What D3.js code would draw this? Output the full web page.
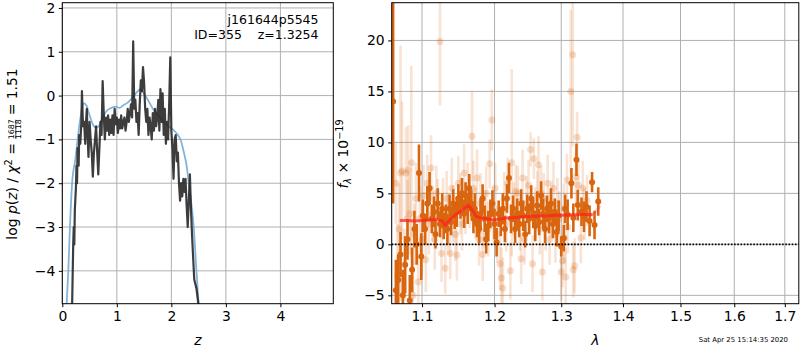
<!DOCTYPE html>
<html>
<head>
<meta charset="utf-8">
<script src="https://cdn.jsdelivr.net/npm/d3@7"></script>
<style>
  body { margin: 0; background: #fff; }
  svg text { font-family: "DejaVu Sans", sans-serif; fill: #000; }
  .tick text { font-size: 13.9px; }
  .tick line { stroke: #000; stroke-width: 1; }
</style>
</head>
<body>
<div id="chart"></div>
<script>
"use strict"

// ---- p(z) panel data ----
// black: log p(z) from the fit
const pzRedshift = [0.18,0.20,0.21,0.22,0.23,0.25,0.26,0.27,0.28,0.30,0.31,0.33,0.35,0.36,0.38,0.40,0.42,0.43,0.45,0.46,
  0.48,0.50,0.52,0.54,0.56,0.58,0.60,0.62,0.64,0.66,0.68,0.70,0.72,0.74,0.76,0.78,0.80,0.82,0.84,0.86,
  0.88,0.90,0.92,0.94,0.96,0.98,1.00,1.02,1.04,1.06,1.08,1.10,1.12,1.14,1.16,1.18,1.20,1.22,1.24,1.26,
  1.28,1.30,1.32,1.34,1.36,1.38,1.40,1.42,1.44,1.46,1.48,1.50,1.52,1.54,1.56,1.58,1.60,1.62,1.64,1.66,
  1.68,1.70,1.72,1.74,1.76,1.78,1.80,1.82,1.84,1.86,1.88,1.90,1.92,1.94,1.96,1.98,2.00,2.02,2.04,2.06,
  2.08,2.10,2.12,2.14,2.16,2.18,2.20,2.22,2.24,2.26,2.28,2.30,2.32,2.34,2.36,2.38,2.40,2.42,2.44,2.46,2.48,2.50];
const pzLogp = [-4.8,-3.4,-3.0,-3.4,-2.6,-2.1,-1.6,-2.0,-1.2,-1.6,-0.9,-1.1,-0.6,0.1,-0.7,-0.6,-1.1,-0.7,-0.3,-0.8,
  -1.4,-0.6,-1.0,-1.3,-1.85,-1.3,-1.0,-0.7,-1.3,-1.8,-1.2,-0.6,-0.9,0.33,-0.4,-1.0,-0.5,-0.8,-0.45,-0.9,
  -0.55,-0.85,-0.45,-0.9,-0.3,-0.65,-0.5,-0.85,-0.55,-0.75,-0.45,-0.75,-0.6,-0.5,-0.8,-0.6,-0.3,-0.6,-0.4,-0.2,
  -0.5,1.24,-0.3,-0.1,-0.6,-0.4,-0.9,-0.2,0.35,0.1,0.65,0.3,-0.3,-0.6,-0.3,-0.9,-0.5,-0.7,-1.0,-0.4,
  -0.8,-0.3,-0.7,-0.5,-0.1,-0.8,0.15,-0.6,0.05,-0.9,-0.3,-1.1,-0.6,-1.0,-0.2,0.87,-0.8,-1.2,-1.9,-1.0,
  -0.9,-1.5,-1.3,-2.0,-2.4,-2.0,-2.3,-1.9,-2.2,-1.9,-2.5,-3.0,-2.4,-1.8,-2.6,-3.2,-3.7,-4.2,-4.3,-4.4,-4.6,-4.8];

// blue: smooth template prior curve
const templRedshift = [0.08,0.11,0.14,0.18,0.24,0.30,0.34,0.39,0.44,0.50,0.56,0.62,0.68,0.74,0.82,0.90,0.97,1.05,1.12,1.20,
  1.28,1.36,1.43,1.50,1.58,1.66,1.75,1.85,1.95,2.05,2.12,2.18,2.23,2.28,2.32,2.37,2.41,2.46,2.50];
const templLogp = [-4.75,-4.0,-3.0,-2.0,-1.45,-0.8,-0.45,-0.17,-0.22,-0.45,-0.66,-0.73,-0.68,-0.5,-0.34,-0.28,-0.25,-0.28,-0.22,-0.16,
  -0.05,0.07,0.14,0.04,-0.12,-0.3,-0.43,-0.58,-0.7,-0.8,-0.9,-1.05,-1.3,-1.6,-2.0,-2.5,-3.0,-4.0,-4.75];

// ---- spectrum panel data (flux in 1e-19) ----
const faintWave = [1.066,1.068,1.070,1.072,1.074,1.077,1.079,1.081,1.082,1.084,1.086,1.088,1.090,1.092,1.095,1.097,1.100,1.102,1.105,1.107,
  1.109,1.112,1.114,1.117,1.119,1.121,1.124,1.126,1.128,1.131,1.133,1.135,1.138,1.140,1.142,1.145,1.147,1.149,1.152,1.154,
  1.157,1.159,1.162,1.165,1.168,1.170,1.173,1.175,1.178,1.180,1.183,1.185,1.188,1.191,1.193,1.196,1.198,1.201,1.204,1.208,
  1.210,1.212,1.214,1.217,1.219,1.223,1.225,1.228,1.231,1.234,1.237,1.239,1.241,1.244,1.247,1.250,1.253,1.256,1.258,1.260,
  1.263,1.265,1.267,1.269,1.271,1.273,1.276,1.279,1.282,1.285,1.288,1.291,1.294,1.297,1.300,1.302,1.304,1.305,1.307,1.309,
  1.310,1.315,1.318,1.319,1.321,1.323,1.325,1.327,1.331,1.334,1.337,1.341];
const faintFlux = [6.0,-3.0,1.5,7.0,7.2,-2.0,7.0,2.5,7.3,3.0,8.0,-5.0,1.0,4.5,-3.7,2.5,0.5,4.8,-1.5,6.0,
  2.0,7.5,3.0,0.5,5.0,3.8,19.9,-0.9,3.5,-2.35,4.5,2.0,-0.9,5.5,3.0,1.0,-1.05,6.0,4.0,2.0,
  7.0,3.5,5.0,4.2,10.6,5.5,3.0,6.5,0.5,4.0,-1.0,2.5,5.0,1.5,7.9,12.2,3.0,5.5,1.0,-1.9,
  -3.3,-4.3,4.5,2.0,6.0,-2.6,8.0,3.5,5.2,5.0,2.0,-1.4,6.5,0.5,4.0,5.8,9.3,-1.9,8.4,3.0,
  4.6,7.8,1.5,5.0,-2.7,4.5,2.0,6.0,0.5,3.5,5.5,1.0,4.0,2.5,-2.7,-1.6,3.5,0.65,-3.2,6.3,
  1.7,15.0,18.6,-2.5,-2.1,6.6,10.5,5.8,0.65,5.5,3.0,4.3];
const faintErr = [4.0,5.0,4.5,12.5,6.8,3.5,4.5,3.8,4.4,4.0,9.5,3.5,3.0,3.5,3.0,3.2,3.5,3.0,3.2,2.8,
  3.0,3.2,2.8,3.0,2.7,2.6,6.3,2.8,3.0,2.5,2.7,3.0,2.5,3.0,2.8,2.6,2.5,2.7,3.0,2.6,
  2.8,2.5,3.0,2.6,4.4,2.7,2.5,2.8,2.6,3.0,2.6,2.8,2.6,2.7,2.4,3.0,2.7,2.5,2.8,2.6,
  3.0,3.0,2.6,2.7,2.5,2.8,9.2,2.6,2.6,2.7,2.6,2.5,2.8,2.5,2.7,2.5,1.7,2.8,2.0,2.6,
  2.6,2.8,2.5,2.7,2.8,2.5,2.6,2.8,2.5,2.7,2.6,2.8,2.5,2.7,2.8,2.6,2.5,2.5,2.8,2.6,
  2.6,8.0,9.0,2.7,2.7,2.5,2.5,2.5,2.5,2.7,2.6,2.5];

const darkWave = [1.0625,1.066,1.069,1.072,1.075,1.078,1.081,1.084,1.087,1.090,1.093,1.096,1.099,1.101,1.104,1.107,1.110,1.113,1.116,1.118,
  1.121,1.124,1.127,1.129,1.132,1.134,1.137,1.139,1.142,1.144,1.147,1.149,1.152,1.154,1.157,1.159,1.162,1.164,1.167,1.170,
  1.172,1.175,1.178,1.180,1.183,1.186,1.188,1.191,1.194,1.197,1.200,1.203,1.206,1.209,1.212,1.215,1.218,1.221,1.224,1.227,
  1.230,1.233,1.236,1.239,1.242,1.245,1.248,1.251,1.254,1.257,1.260,1.263,1.266,1.269,1.272,1.275,1.278,1.281,1.284,1.287,
  1.290,1.293,1.296,1.300,1.304,1.306,1.310,1.316,1.319,1.324,1.326,1.332,1.336,1.340,1.345,1.349,1.353,1.359];
const darkFlux = [14,-4.5,-3.5,-1.0,-5.0,-2.0,0.5,-5.5,-2.5,1.5,0.0,7.0,-1.2,2.8,1.5,4.0,5.5,2.5,3.2,1.0,
  4.0,2.0,3.5,1.8,2.5,1.5,3.5,2.2,4.0,2.8,3.2,4.5,3.8,5.0,3.0,4.8,3.5,5.5,4.0,2.5,
  3.5,2.0,1.5,3.0,4.5,2.5,0.5,1.8,3.0,4.0,2.0,0.2,3.0,2.2,3.5,1.5,4.5,6.5,2.5,3.5,
  1.5,3.0,2.0,4.0,2.8,1.0,3.5,2.5,4.5,3.0,1.8,3.8,2.2,4.8,3.0,1.5,3.5,2.5,4.0,2.0,
  3.2,1.2,2.8,-0.2,0.6,3.5,2.9,6.0,2.6,8.3,3.85,3.2,2.7,3.7,2.3,6.1,1.9,4.2];
const darkErr = [10,3.0,2.5,2.2,2.5,2.8,2.0,2.5,2.2,1.8,2.0,2.8,2.3,1.6,1.5,1.7,1.6,1.4,1.5,1.4,
  1.5,1.3,1.5,1.3,1.4,1.5,1.4,1.3,1.4,1.3,1.5,1.4,1.3,1.5,1.4,1.3,1.5,1.4,1.3,1.4,
  1.5,1.3,1.4,1.5,1.4,1.3,1.4,1.5,1.4,1.3,1.5,1.4,1.3,1.4,1.5,1.3,1.4,1.5,1.4,1.3,
  1.4,1.5,1.3,1.4,1.5,1.3,1.4,1.5,1.3,1.4,1.5,1.4,1.3,1.4,1.5,1.4,1.3,1.4,1.5,1.4,
  1.3,1.4,1.5,1.0,1.3,1.4,1.5,1.5,1.4,1.6,1.5,1.4,1.5,1.5,1.5,1.0,1.4,1.4];

// red: best-fit model
const modelWave = [1.071,1.08,1.09,1.10,1.11,1.12,1.127,1.131,1.136,1.145,1.155,1.163,1.168,1.174,1.18,1.19,1.198,1.21,1.22,1.23,
  1.24,1.25,1.26,1.27,1.28,1.29,1.30,1.31,1.32,1.33,1.34,1.35];
const modelFlux = [2.35,2.35,2.3,2.35,2.4,2.45,2.3,1.85,2.3,2.9,3.4,3.85,3.4,2.75,2.6,2.5,2.4,2.5,2.6,2.6,
  2.7,2.72,2.75,2.78,2.8,2.85,2.85,2.88,2.9,2.92,2.92,2.9];
const modelTailWave = [1.345,1.352,1.357,1.362];
const modelTailFlux = [2.92,3.0,3.35,3.8];

// tick labels
const zTicks = [0, 1, 2, 3, 4];
const logpTicks = [-4, -3, -2, -1, 0, 1, 2];
const waveTicks = [1.1, 1.2, 1.3, 1.4, 1.5, 1.6, 1.7];
const fluxTicks = [-5, 0, 5, 10, 15, 20];

// Figure size and the two axes boxes
const figWidth = 800;
const figHeight = 350;
const pzBox = {left: 62.3, right: 333.3, top: 2.7, bottom: 303.7};
const spBox = {left: 391.7, right: 798.8, top: 2.7, bottom: 303.7};

const orange = "#d9650f";

const svg = d3.select("#chart").append("svg")
  .attr("width", figWidth)
  .attr("height", figHeight);

// Scales (the wavelength axis is logarithmic)
const xZ = d3.scaleLinear().domain([0, 4.97]).range([pzBox.left, pzBox.right]);
const yLogp = d3.scaleLinear().domain([-4.75, 2.12]).range([pzBox.bottom, pzBox.top]);
const xWave = d3.scaleLog().domain([1.0607, 1.7288]).range([spBox.left, spBox.right]);
const yFlux = d3.scaleLinear().domain([-5.82, 23.7]).range([spBox.bottom, spBox.top]);

function drawGrid(box, xScale, yScale, xTicks, yTicks, id) {
  const grid = svg.append("g").attr("class", "grid");
  grid.selectAll(".gx").data(xTicks).enter().append("line")
    .attr("x1", d => xScale(d)).attr("x2", d => xScale(d))
    .attr("y1", box.top).attr("y2", box.bottom)
    .attr("stroke", "#b0b0b0").attr("stroke-width", 1);
  grid.selectAll(".gy").data(yTicks).enter().append("line")
    .attr("x1", box.left).attr("x2", box.right)
    .attr("y1", d => yScale(d)).attr("y2", d => yScale(d))
    .attr("stroke", "#b0b0b0").attr("stroke-width", 1);

  // clip for the data
  svg.append("clipPath").attr("id", id)
    .append("rect")
      .attr("x", box.left).attr("y", box.top)
      .attr("width", box.right - box.left)
      .attr("height", box.bottom - box.top);
}

function drawAxes(box, xScale, yScale, xTicks, yTicks, xFmt) {
  const xAxis = d3.axisBottom(xScale).tickValues(xTicks).tickFormat(xFmt)
    .tickSize(3.5).tickSizeOuter(0).tickPadding(3.5);
  const yAxis = d3.axisLeft(yScale).tickValues(yTicks).tickFormat(d3.format("d"))
    .tickSize(3.5).tickSizeOuter(0).tickPadding(3.5);

  svg.append("g")
    .attr("transform", `translate(0, ${box.bottom})`)
    .call(xAxis)
    .call(g => g.select(".domain").remove())
    .selectAll("text").attr("font-family", "DejaVu Sans");

  svg.append("g")
    .attr("transform", `translate(${box.left}, 0)`)
    .call(yAxis)
    .call(g => g.select(".domain").remove())
    .selectAll("text").attr("font-family", "DejaVu Sans");

  svg.append("rect")
    .attr("x", box.left).attr("y", box.top)
    .attr("width", box.right - box.left)
    .attr("height", box.bottom - box.top)
    .attr("fill", "none").attr("stroke", "#000").attr("stroke-width", 1);
}

drawGrid(pzBox, xZ, yLogp, zTicks, logpTicks, "clipPz");
drawGrid(spBox, xWave, yFlux, waveTicks, fluxTicks, "clipSp");

// ---- left panel: p(z) curves ----
const pzPlot = svg.append("g").attr("clip-path", "url(#clipPz)");

pzPlot.append("path")
  .datum(d3.zip(templRedshift, templLogp))
  .attr("fill", "none")
  .attr("stroke", "#6fa6d3")
  .attr("stroke-opacity", 0.85)
  .attr("stroke-width", 1.8)
  .attr("d", d3.line().x(d => xZ(d[0])).y(d => yLogp(d[1])).curve(d3.curveMonotoneX));

pzPlot.append("path")
  .datum(d3.zip(pzRedshift, pzLogp))
  .attr("fill", "none")
  .attr("stroke", "#222")
  .attr("stroke-opacity", 0.88)
  .attr("stroke-width", 2.2)
  .attr("stroke-linejoin", "round")
  .attr("d", d3.line().x(d => xZ(d[0])).y(d => yLogp(d[1])));

// ---- right panel: spectrum ----
const spPlot = svg.append("g").attr("clip-path", "url(#clipSp)");

const faint = d3.range(faintWave.length).map(i => ({w: faintWave[i], f: faintFlux[i], e: faintErr[i]}));
const dark = d3.range(darkWave.length).map(i => ({w: darkWave[i], f: darkFlux[i], e: darkErr[i]}));

// faint (low weight) points
spPlot.selectAll(".fbar").data(faint).enter().append("line")
  .attr("x1", d => xWave(d.w)).attr("x2", d => xWave(d.w))
  .attr("y1", d => yFlux(d.f - d.e)).attr("y2", d => yFlux(d.f + d.e))
  .attr("stroke", orange).attr("stroke-opacity", 0.18).attr("stroke-width", 2.6);

spPlot.selectAll(".fpt").data(faint).enter().append("circle")
  .attr("cx", d => xWave(d.w)).attr("cy", d => yFlux(d.f))
  .attr("r", 3.5)
  .attr("fill", orange).attr("fill-opacity", 0.22);

// binned points
spPlot.selectAll(".dbar").data(dark).enter().append("line")
  .attr("x1", d => xWave(d.w)).attr("x2", d => xWave(d.w))
  .attr("y1", d => yFlux(d.f - d.e)).attr("y2", d => yFlux(d.f + d.e))
  .attr("stroke", orange).attr("stroke-width", 2.6);

spPlot.selectAll(".dpt").data(dark).enter().append("circle")
  .attr("cx", d => xWave(d.w)).attr("cy", d => yFlux(d.f))
  .attr("r", 3)
  .attr("fill", orange);

const modelLine = d3.line().x(d => xWave(d[0])).y(d => yFlux(d[1]));

spPlot.append("path")
  .datum(d3.zip(modelTailWave, modelTailFlux))
  .attr("fill", "none").attr("stroke", "#ff3030").attr("stroke-opacity", 0.25)
  .attr("stroke-width", 3).attr("d", modelLine);

spPlot.append("path")
  .datum(d3.zip(modelWave, modelFlux))
  .attr("fill", "none").attr("stroke", "#ff2020").attr("stroke-opacity", 0.72)
  .attr("stroke-width", 3).attr("stroke-linejoin", "round").attr("d", modelLine);

// zero line
spPlot.append("line")
  .attr("x1", spBox.left).attr("x2", spBox.right)
  .attr("y1", yFlux(0)).attr("y2", yFlux(0))
  .attr("stroke", "#000").attr("stroke-width", 1.6)
  .attr("stroke-dasharray", "1.6,1.6");

drawAxes(pzBox, xZ, yLogp, zTicks, logpTicks, d3.format("d"));
drawAxes(spBox, xWave, yFlux, waveTicks, fluxTicks, d3.format(".1f"));

// ---- labels ----
svg.append("text")
  .attr("x", (pzBox.left + pzBox.right) / 2).attr("y", 345)
  .attr("text-anchor", "middle").attr("font-size", 13.9).attr("font-style", "italic")
  .text("z");

svg.append("text")
  .attr("x", (spBox.left + spBox.right) / 2).attr("y", 345)
  .attr("text-anchor", "middle").attr("font-size", 13.9).attr("font-style", "italic")
  .text("λ");

// annotation in the p(z) panel
svg.append("text")
  .attr("x", 318.5).attr("y", 24).attr("text-anchor", "end").attr("font-size", 12.5)
  .text("j161644p5545");
svg.append("text")
  .attr("x", 318.5).attr("y", 38.5).attr("text-anchor", "end").attr("font-size", 12.5)
  .style("white-space", "pre")
  .text("ID=355    z=1.3254");

// left y label: log p(z) / chi2 = 1687/1118 = 1.51
const yLab = svg.append("g");
const lab1 = yLab.append("text").attr("font-size", 13.9).attr("x", 0).attr("y", 0);
lab1.append("tspan").text("log ");
lab1.append("tspan").attr("font-style", "italic").text("p");
lab1.append("tspan").text("(");
lab1.append("tspan").attr("font-style", "italic").text("z");
lab1.append("tspan").text(") / ");
lab1.append("tspan").attr("font-style", "italic").text("χ");
lab1.append("tspan").attr("font-size", 9.7).attr("dy", -5.5).text("2");
lab1.append("tspan").attr("dy", 5.5).style("white-space", "pre").text(" = ");
const w1 = lab1.node().getComputedTextLength();

const fracW = 19;
yLab.append("text").attr("font-size", 7.8).attr("text-anchor", "middle")
  .attr("x", w1 + fracW / 2).attr("y", -2.6).text("1687");
yLab.append("text").attr("font-size", 7.8).attr("text-anchor", "middle")
  .attr("x", w1 + fracW / 2).attr("y", 4.4).text("1118");
yLab.append("line")
  .attr("x1", w1).attr("x2", w1 + fracW).attr("y1", -1.2).attr("y2", -1.2)
  .attr("stroke", "#000").attr("stroke-width", 0.7);

const lab2 = yLab.append("text").attr("font-size", 13.9)
  .attr("x", w1 + fracW).attr("y", 0).style("white-space", "pre").text(" = 1.51");
const totalW = w1 + fracW + lab2.node().getComputedTextLength();
yLab.attr("transform", `translate(17, 154) rotate(-90) translate(${-totalW / 2}, 0)`);

// right y label: f_lambda x 10^-19
const yLab2 = svg.append("text").attr("font-size", 13.9).attr("text-anchor", "middle")
  .attr("transform", "translate(348, 154) rotate(-90)");
yLab2.append("tspan").attr("font-style", "italic").text("f");
yLab2.append("tspan").attr("font-style", "italic").attr("font-size", 9.7).attr("dy", 3).text("λ");
yLab2.append("tspan").attr("dy", -3).style("white-space", "pre").text(" × 10");
yLab2.append("tspan").attr("font-size", 9.7).attr("dy", -5.5).text("−19");

// timestamp
svg.append("text")
  .attr("x", 788).attr("y", 342).attr("text-anchor", "end").attr("font-size", 6.9)
  .text("Sat Apr 25 15:14:35 2020");
</script>
</body>
</html>
